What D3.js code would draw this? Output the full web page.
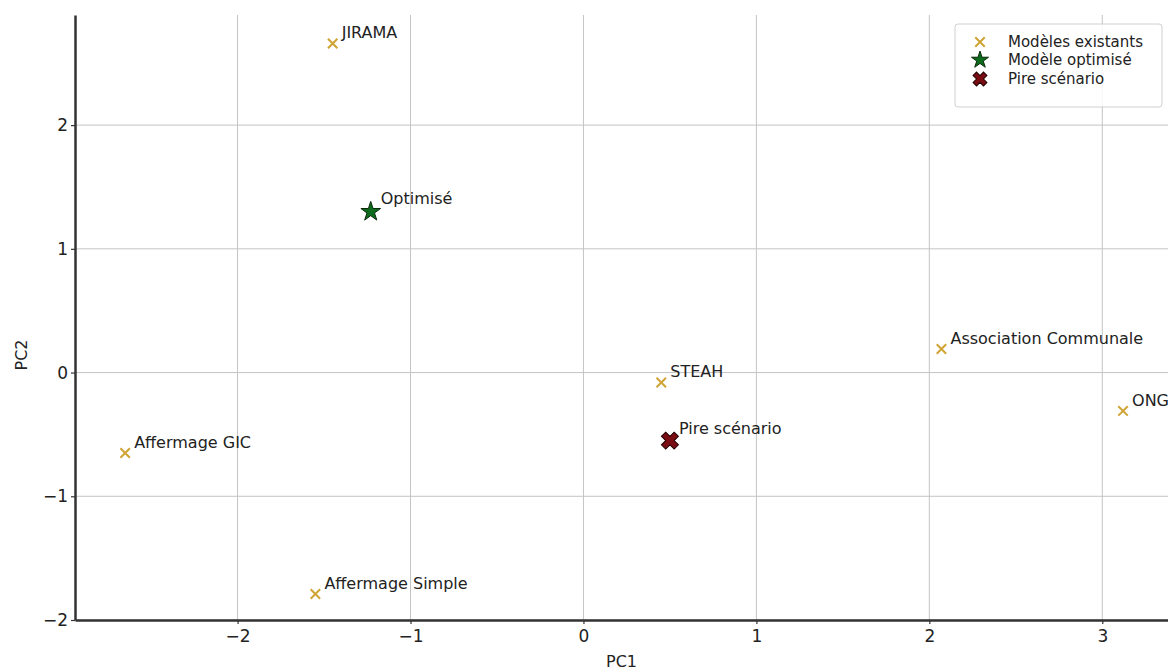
<!DOCTYPE html>
<html>
<head>
<meta charset="utf-8"/>
<script src="https://d3js.org/d3.v7.min.js"></script>
<style>
  body { margin: 0; background: #fff; }
  text { font-family: "DejaVu Sans", sans-serif; fill: #222; }
</style>
</head>
<body>
<div id="chart"></div>
<script>
    // modèles existants
    var names = ["JIRAMA", "Affermage GIC", "Affermage Simple", "STEAH", "Association Communale", "ONG"];
    var pc1 = [-1.45, -2.65, -1.55, 0.45, 2.07, 3.12];
    var pc2 = [2.66, -0.65, -1.79, -0.08, 0.19, -0.31];

    var optName = "Optimisé", optPc1 = -1.23, optPc2 = 1.30;
    var pireName = "Pire scénario", pirePc1 = 0.50, pirePc2 = -0.55;

    var xTicks = [-2, -1, 0, 1, 2, 3];
    var yTicks = [-2, -1, 0, 1, 2];
    var legendLabels = ["Modèles existants", "Modèle optimisé", "Pire scénario"];

    var width = 1168, height = 670;
    var margin = {top: 15, right: 0, bottom: 50, left: 75};

    var svg = d3.select("#chart").append("svg")
        .attr("width", width)
        .attr("height", height);

    var x = d3.scaleLinear().domain([-2.94, 3.38]).range([margin.left, width - margin.right]);
    var y = d3.scaleLinear().domain([-2, 2.89]).range([height - margin.bottom, margin.top]);

    // grid
    svg.append("g").selectAll("line").data(xTicks).enter().append("line")
        .attr("x1", d => x(d)).attr("x2", d => x(d))
        .attr("y1", y.range()[0]).attr("y2", y.range()[1])
        .attr("stroke", "#c4c4c4").attr("stroke-width", 1);
    svg.append("g").selectAll("line").data(yTicks).enter().append("line")
        .attr("y1", d => y(d)).attr("y2", d => y(d))
        .attr("x1", x.range()[0]).attr("x2", x.range()[1])
        .attr("stroke", "#c4c4c4").attr("stroke-width", 1);

    var fmt = d => d < 0 ? "\u2212" + Math.abs(d) : "" + d;

    // axes
    var gx = svg.append("g")
        .attr("transform", "translate(0," + y(-2) + ")")
        .call(d3.axisBottom(x).tickValues(xTicks).tickFormat(fmt)
            .tickSizeInner(4).tickSizeOuter(0).tickPadding(6));
    var gy = svg.append("g")
        .attr("transform", "translate(" + x.range()[0] + ",0)")
        .call(d3.axisLeft(y).tickValues(yTicks).tickFormat(fmt)
            .tickSizeInner(4).tickSizeOuter(0).tickPadding(3));
    [gx, gy].forEach(function(g) {
        g.select(".domain").attr("stroke", "#333").attr("stroke-width", 2.5);
        g.selectAll(".tick line").attr("stroke", "#333").attr("stroke-width", 1.2);
        g.selectAll("text").style("font-family", "DejaVu Sans, sans-serif")
            .style("font-size", "17px").attr("fill", "#222");
    });

    svg.append("text").attr("x", (x.range()[0] + x.range()[1]) / 2).attr("y", 667)
        .attr("text-anchor", "middle").style("font-size", "16px").text("PC1");
    svg.append("text").attr("transform", "translate(27,355)rotate(-90)")
        .attr("text-anchor", "middle").style("font-size", "16px").text("PC2");

    // symbols
    var xSym = d3.symbol().type(d3.symbolX).size(60);
    var starSym = d3.symbol().type(d3.symbolStar).size(120);
    var starLeg = d3.symbol().type(d3.symbolStar).size(90);
    var boldX = d3.symbol().type(d3.symbolCross).size(180);
    var boldXLeg = d3.symbol().type(d3.symbolCross).size(120);

    svg.append("g").selectAll("path").data(names).enter().append("path")
        .attr("d", xSym)
        .attr("transform", (d, i) => "translate(" + x(pc1[i]) + "," + y(pc2[i]) + ")")
        .attr("fill", "none").attr("stroke", "#cfa434").attr("stroke-width", 2);
    svg.append("g").selectAll("text").data(names).enter().append("text")
        .attr("x", (d, i) => x(pc1[i]) + 9)
        .attr("y", (d, i) => y(pc2[i]) - 5)
        .style("font-size", "16px").text(d => d);

    svg.append("path").attr("d", starSym)
        .attr("transform", "translate(" + x(optPc1) + "," + y(optPc2) + ")")
        .attr("fill", "#0d6b1e").attr("stroke", "#0a2a0a").attr("stroke-width", 1);
    svg.append("text").attr("x", x(optPc1) + 10).attr("y", y(optPc2) - 8)
        .style("font-size", "16px").text(optName);

    svg.append("path").attr("d", boldX)
        .attr("transform", "translate(" + x(pirePc1) + "," + y(pirePc2) + ")rotate(45)")
        .attr("fill", "#7a0d14").attr("stroke", "#200").attr("stroke-width", 1);
    svg.append("text").attr("x", x(pirePc1) + 9).attr("y", y(pirePc2) - 7)
        .style("font-size", "16px").text(pireName);

    // legend
    var lg = svg.append("g").attr("transform", "translate(955,24)");
    lg.append("rect").attr("width", 207).attr("height", 83).attr("rx", 3)
        .attr("fill", "#fff").attr("fill-opacity", 0.85)
        .attr("stroke", "#cfcfcf").attr("stroke-width", 1);
    var rowY = [18, 36, 55];
    lg.append("path").attr("d", xSym).attr("transform", "translate(25," + rowY[0] + ")")
        .attr("fill", "none").attr("stroke", "#cfa434").attr("stroke-width", 2);
    lg.append("path").attr("d", starLeg).attr("transform", "translate(25," + rowY[1] + ")")
        .attr("fill", "#0d6b1e").attr("stroke", "#0a2a0a").attr("stroke-width", 1);
    lg.append("path").attr("d", boldXLeg).attr("transform", "translate(25," + rowY[2] + ")rotate(45)")
        .attr("fill", "#7a0d14").attr("stroke", "#200").attr("stroke-width", 1);
    lg.selectAll("text.lab").data(legendLabels).enter().append("text")
        .attr("class", "lab")
        .attr("x", 53).attr("y", (d, i) => rowY[i] + 5)
        .style("font-size", "15px").text(d => d);
</script>
</body>
</html>
